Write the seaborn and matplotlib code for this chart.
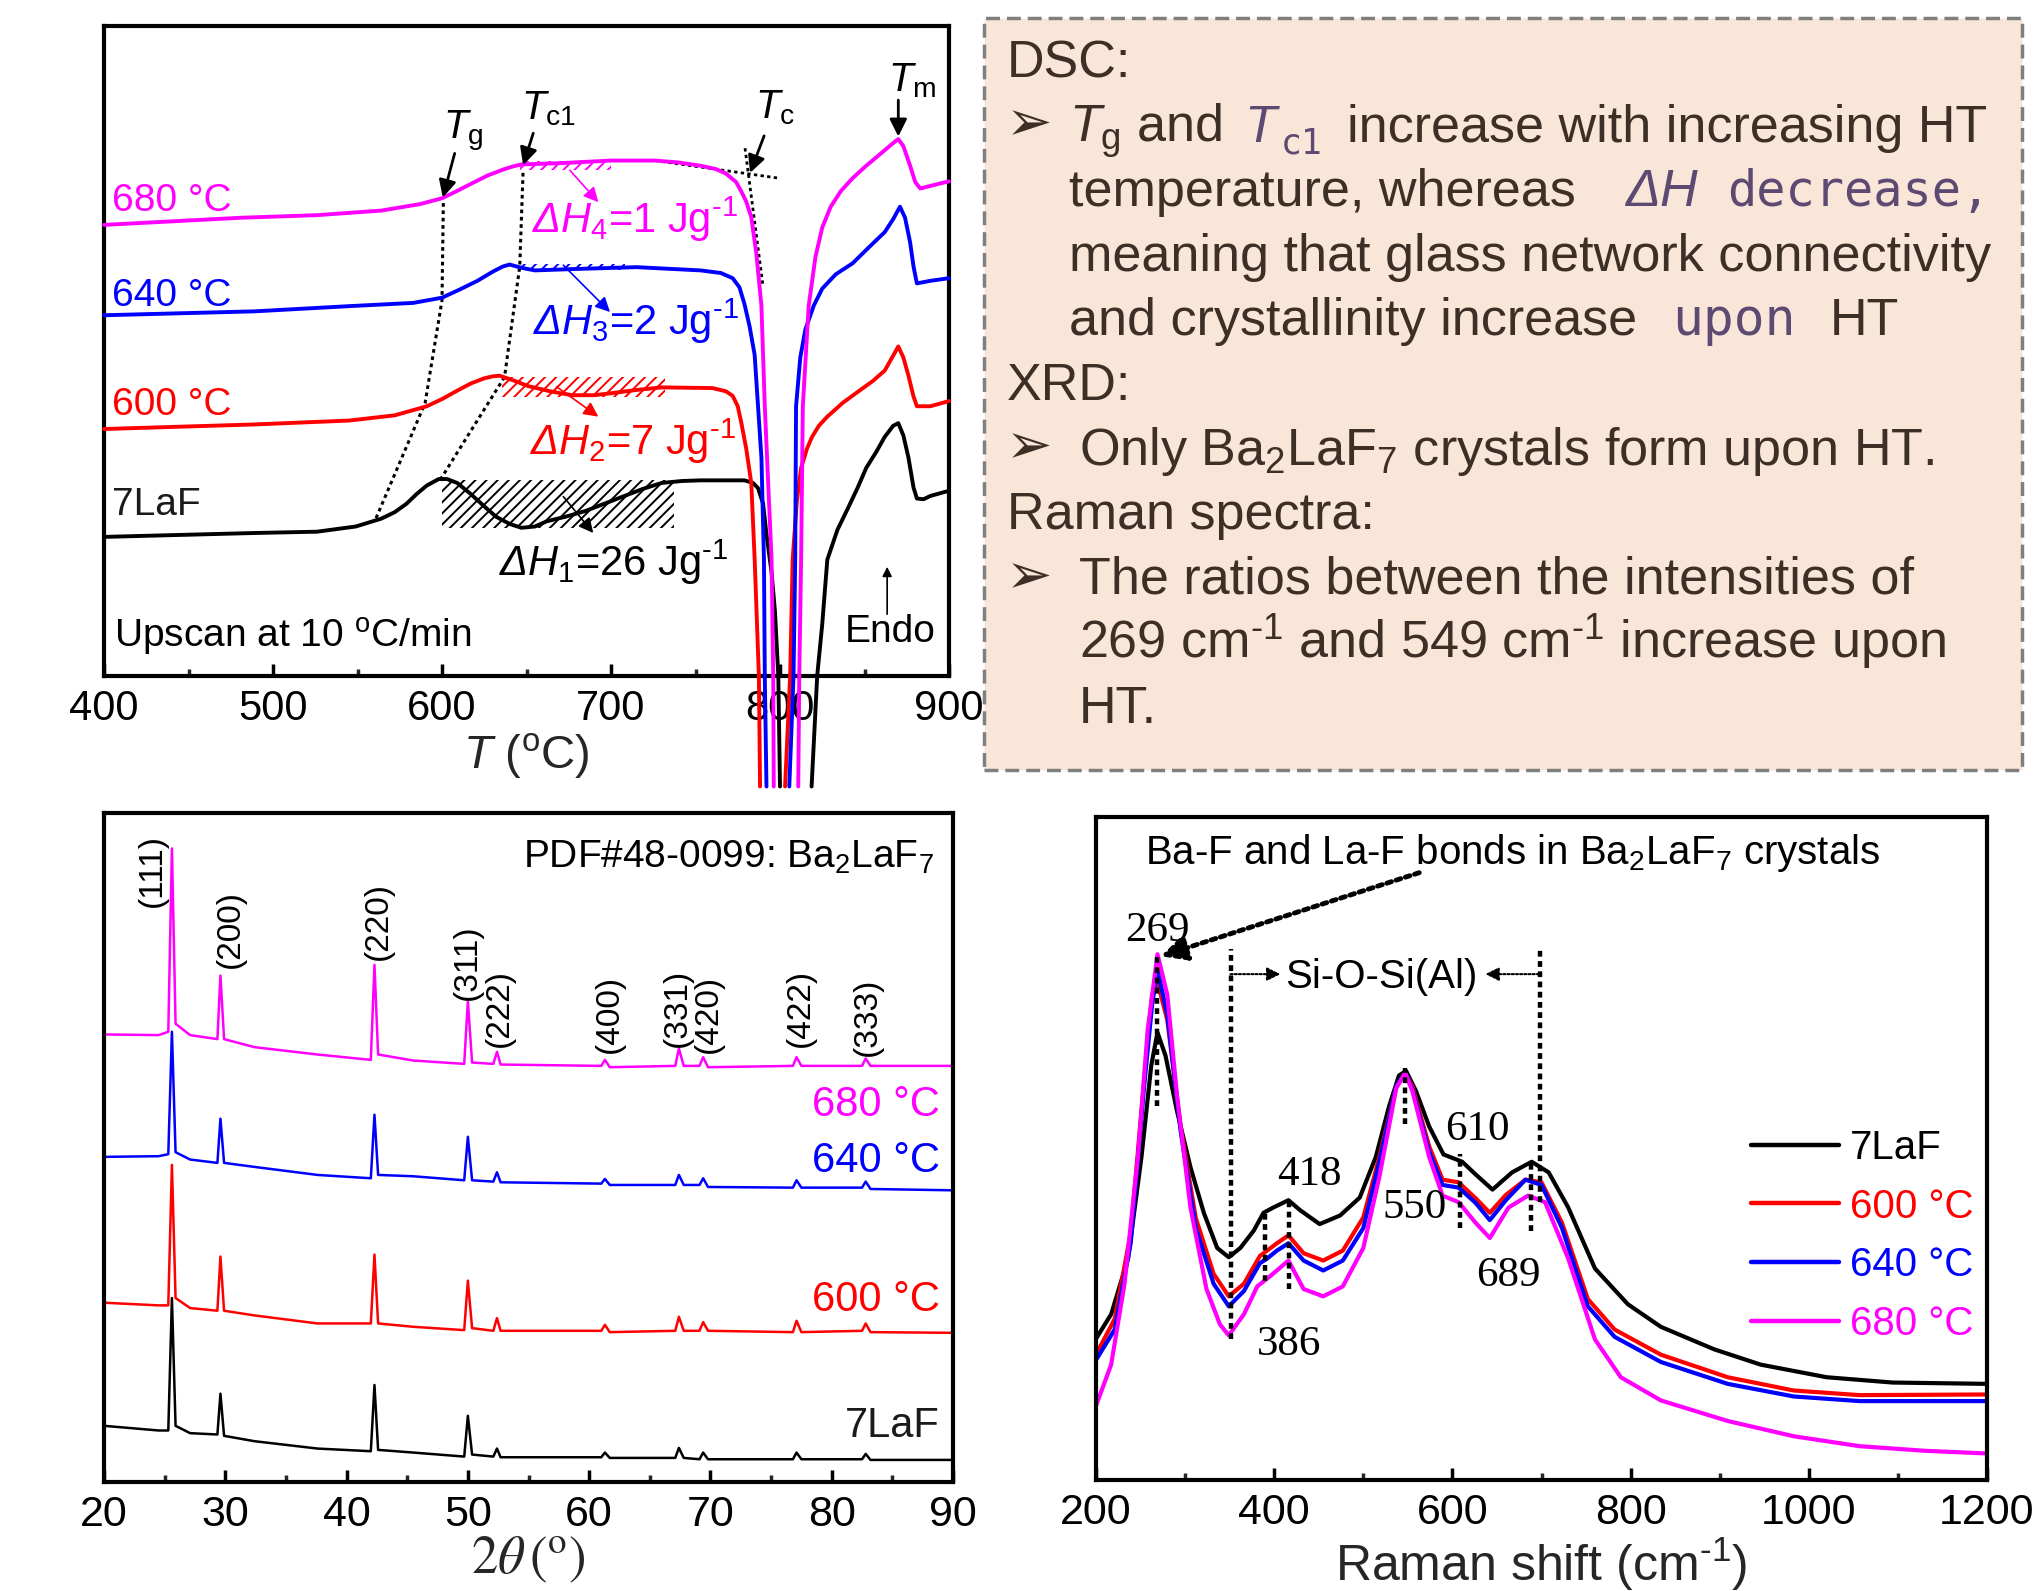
import matplotlib
matplotlib.use("Agg")
import matplotlib.pyplot as plt
from matplotlib.patches import Rectangle
from matplotlib.ticker import MultipleLocator
import seaborn as sns

# ---------------- DSC (T in degC, signal in arbitrary offset units) ----------------
# each trace is split where the crystallisation dip runs off the bottom of the panel
dsc_7laf_T1 = [400, 489, 526, 549, 564, 572, 579, 585, 591, 598, 603, 609, 617, 625, 632, 640, 647, 655, 662, 673,
               685, 697, 708, 719, 730, 742, 753, 779, 784, 787, 790, 792, 795, 797, 799, 800]
dsc_7laf_y1 = [21.4, 22.0, 22.2, 23.0, 24.2, 25.2, 26.5, 28.0, 29.3, 30.3, 30.3, 29.7, 28.0, 26.1, 24.5, 23.4, 22.8,
               23.0, 23.8, 24.5, 25.4, 26.6, 27.7, 28.8, 29.7, 30.0, 30.1, 30.1, 29.7, 28.9, 26.5, 21.8, 16.0, 10.0, 0.0, -17.0]
dsc_7laf_T2 = [818.7, 822, 825, 828, 834, 840, 846, 851, 857, 862, 867, 870, 873, 876, 879, 881, 885, 889, 900]
dsc_7laf_y2 = [-17.0, 0.0, 8.0, 17.9, 22.5, 25.7, 29.0, 32.0, 34.5, 36.8, 38.5, 38.9, 37.0, 33.6, 29.0, 27.3, 27.2, 27.7, 28.5]

dsc_600_T1 = [400, 489, 545, 572, 591, 600, 609, 617, 625, 630, 634, 642, 651, 664, 677, 690, 700, 715, 730, 760, 768, 772,
              775, 777, 780, 783, 785, 787.5, 788.2]
dsc_600_y1 = [38.0, 38.7, 39.3, 40.1, 41.5, 42.6, 43.9, 45.0, 45.8, 46.1, 46.2, 45.5, 44.6, 43.8, 43.2, 43.2, 43.5, 44.0,
              44.4, 44.3, 43.8, 43.1, 41.5, 39.1, 35.0, 29.7, 18.0, 0.0, -17.0]
dsc_600_T2 = [803, 806, 807.5, 810, 812.5, 816, 819, 823, 828, 837, 847, 855, 862, 867, 870, 873, 876, 879, 881, 889, 900]
dsc_600_y2 = [-17.0, 0.0, 18.0, 27.0, 32.0, 35.0, 36.8, 38.5, 39.9, 42.0, 43.9, 45.4, 47.0, 49.3, 50.7, 49.0, 46.2, 43.0,
              41.5, 41.5, 42.3]

dsc_640_T1 = [400, 489, 545, 583, 600, 610, 621, 630, 636, 640, 647, 655, 677, 715, 753, 765, 772, 776, 779, 782, 785, 789,
              790.5, 791, 792]
dsc_640_y1 = [55.5, 56.1, 56.9, 57.4, 58.2, 59.4, 60.8, 62.2, 63.0, 63.3, 62.8, 62.4, 62.6, 62.9, 62.4, 62.0, 61.2, 59.8,
              57.2, 53.8, 49.4, 33.6, 18.0, 0.0, -17.0]
dsc_640_T2 = [805.5, 808, 809, 809.5, 812, 815, 820, 825, 833, 843, 852, 862, 867, 871, 874, 877, 879, 881, 889, 900]
dsc_640_y2 = [-17.0, 0.0, 18.0, 41.5, 49.0, 53.3, 57.0, 59.6, 61.8, 63.5, 65.8, 68.3, 70.3, 72.2, 70.5, 66.7, 63.0, 60.4,
              60.8, 61.2]

dsc_680_T1 = [400, 481, 526, 564, 587, 600, 608, 617, 627, 636, 642, 647, 670, 700, 726, 740, 753, 762, 768, 774, 777, 780,
              783, 786, 789, 791, 795, 796, 796.3]
dsc_680_y1 = [69.4, 70.5, 70.9, 71.6, 72.6, 73.5, 74.5, 75.7, 77.0, 77.9, 78.4, 78.7, 78.9, 79.3, 79.3, 79.0, 78.5, 78.0,
              77.3, 76.0, 74.6, 73.0, 70.6, 65.0, 57.0, 41.5, 18.0, 0.0, -17.0]
dsc_680_T2 = [810.8, 811.4, 812.5, 813.5, 817, 821, 825, 830, 836, 843, 851, 857, 862, 867, 870, 873, 877, 880, 883, 892, 900]
dsc_680_y2 = [-17.0, 0.0, 18.0, 41.5, 57.0, 64.5, 69.0, 72.2, 74.6, 76.6, 78.5, 79.8, 80.9, 82.0, 82.6, 81.5, 78.5, 76.0,
              75.0, 75.6, 76.1]

dsc_labels = ["7LaF", "600 \u00b0C", "640 \u00b0C", "680 \u00b0C"]
dsc_label_y = [24.8, 40.1, 56.9, 71.6]
dh_texts = ["1", "2", "3", "4"]
dh_values = ["26", "7", "2", "1"]

# guide lines through Tg and Tc1 of each trace, and the Tc tangent construction
tg_T = [561, 590, 600, 600.8]
tg_y = [24.3, 42.0, 57.8, 73.0]
tc1_T = [599, 637, 646, 648]
tc1_y = [30.2, 46.0, 63.0, 77.8]
tc_tan1_T = [726, 799]
tc_tan1_y = [79.3, 76.6]
tc_tan2_T = [779.3, 790]
tc_tan2_y = [81.2, 59.9]

# hatched enthalpy areas: T start, T end, y bottom, y top
dh_T0 = [599.8, 635.3, 644, 646]
dh_T1 = [737, 732, 708, 700]
dh_y0 = [22.8, 43.0, 62.5, 77.8]
dh_y1 = [30.2, 46.0, 63.4, 79.3]

# ---------------- XRD ----------------
xrd_2theta = [20, 24.5, 25.3, 25.6, 25.9, 27.1, 29.35, 29.6, 29.9, 32.4, 37.6, 42.0, 42.3, 42.6, 45.5,
              49.7, 50.0, 50.35, 52.1, 52.4, 52.7, 61.0, 61.3, 61.7, 67.1, 67.4, 67.8, 69.1, 69.4, 69.8,
              76.8, 77.1, 77.5, 82.5, 82.8, 83.2, 90]
xrd_680 = [66.9, 66.8, 67.3, 94.7, 68.5, 66.8, 66.2, 75.7, 66.2, 65.0, 63.9, 63.1, 77.3, 63.9, 63.0,
           62.5, 71.9, 62.7, 62.5, 64.3, 62.4, 62.2, 63.1, 62.0, 62.2, 64.8, 62.2, 62.2, 63.5, 62.0,
           62.2, 63.5, 62.2, 62.2, 63.3, 62.2, 62.2]
xrd_640 = [48.6, 48.7, 49.0, 67.3, 49.3, 48.2, 47.7, 54.3, 47.7, 47.1, 45.9, 45.4, 54.9, 45.9, 45.7,
           45.1, 51.6, 45.1, 44.9, 46.3, 44.8, 44.6, 45.3, 44.4, 44.4, 45.9, 44.4, 44.4, 45.4, 44.1,
           44.0, 45.1, 44.0, 44.0, 44.9, 43.8, 43.6]
xrd_600 = [26.8, 26.4, 26.4, 47.4, 27.5, 26.0, 25.6, 33.7, 25.6, 24.9, 23.7, 23.7, 34.0, 23.7, 23.2,
           22.7, 30.1, 23.0, 22.6, 24.5, 22.6, 22.6, 23.5, 22.4, 22.6, 24.7, 22.6, 22.6, 23.9, 22.6,
           22.4, 24.1, 22.4, 22.6, 23.7, 22.4, 22.3]
xrd_7laf = [8.4, 7.7, 7.7, 27.5, 8.4, 7.3, 7.1, 13.2, 6.9, 6.1, 5.0, 4.6, 14.5, 4.8, 4.4,
            3.8, 9.9, 4.1, 3.8, 5.0, 3.7, 3.7, 4.4, 3.6, 3.6, 5.1, 3.6, 3.4, 4.4, 3.4,
            3.4, 4.4, 3.4, 3.4, 4.2, 3.3, 3.3]
hkl_labels = ["(111)", "(200)", "(220)", "(311)", "(222)", "(400)", "(331)", "(420)", "(422)", "(333)"]
hkl_x = [23.95, 30.4, 42.6, 50.0, 52.6, 61.7, 67.3, 69.8, 77.4, 82.9]
hkl_y = [91.4, 82.6, 83.8, 77.7, 70.8, 70.0, 70.8, 70.0, 70.8, 69.6]
xrd_label_y = [8.4, 27.2, 48.0, 56.4]

# ---------------- Raman ----------------
raman_7laf_x = [200, 217, 236, 251, 262, 269, 278, 291, 306, 321, 336, 349, 362, 377, 388, 399, 416, 429,
                451, 474, 496, 514, 529, 540, 548, 559, 574, 590, 611, 626, 645, 667, 689, 708, 730, 760,
                797, 834, 894, 946, 1020, 1094, 1200]
raman_7laf_y = [21.3, 25.0, 33.4, 48.7, 62.5, 67.5, 64.0, 55.6, 47.2, 40.3, 35.0, 33.6, 35.0, 37.6, 40.3,
                41.1, 42.2, 40.7, 38.6, 39.9, 42.6, 48.7, 56.4, 61.0, 61.7, 58.7, 53.3, 49.1, 48.0, 46.1,
                43.8, 46.4, 48.0, 46.4, 41.1, 31.9, 26.5, 23.1, 19.7, 17.4, 15.5, 14.7, 14.5]
raman_x = [200, 221, 239, 254, 263, 269, 280, 295, 312, 332, 349, 366, 384, 392, 403, 416, 433, 455, 477,
           500, 518, 537, 547, 555, 574, 589, 607, 626, 642, 660, 682, 700, 723, 752, 782, 834, 909, 983,
           1057, 1200]
raman_600_y = [18.9, 24.3, 37.3, 60.2, 73.2, 75.1, 69.4, 53.3, 39.5, 31.1, 27.7, 29.6, 33.8, 34.6, 35.7,
               36.9, 34.2, 33.1, 34.6, 39.6, 48.7, 59.4, 61.3, 59.4, 50.3, 45.3, 44.9, 42.5, 40.3, 43.0,
               45.3, 44.9, 38.8, 27.3, 22.7, 18.9, 15.5, 13.5, 12.8, 12.9]
raman_640_y = [18.1, 22.7, 35.8, 59.4, 71.7, 77.0, 70.2, 52.6, 38.0, 29.6, 26.2, 28.5, 32.7, 33.4, 34.6,
               35.7, 33.1, 31.6, 33.1, 38.0, 48.0, 59.4, 61.4, 59.0, 49.5, 44.5, 44.1, 41.8, 39.2, 42.2,
               45.3, 44.5, 38.0, 26.2, 21.6, 17.8, 14.5, 12.6, 11.9, 11.9]
raman_680_x = [200, 217, 232, 247, 258, 269, 280, 291, 306, 324, 339, 349, 366, 381, 396, 416, 433, 455,
               477, 500, 518, 537, 547, 555, 574, 589, 607, 626, 642, 663, 685, 704, 730, 760, 789, 834,
               909, 983, 1057, 1131, 1200]
raman_680_y = [11.2, 17.4, 29.6, 48.7, 67.9, 79.3, 73.2, 57.9, 41.1, 28.8, 23.5, 21.8, 25.0, 29.2, 30.8,
               33.1, 28.8, 27.7, 29.2, 35.0, 45.7, 59.1, 61.4, 58.7, 48.7, 42.9, 41.9, 38.8, 36.5, 41.1,
               42.9, 41.9, 33.4, 21.2, 15.5, 12.0, 8.9, 6.6, 5.1, 4.4, 4.0]
raman_peak_labels = ["269", "418", "550", "610", "386", "689"]
raman_peak_x = [269, 440, 557.6, 627.5, 416.4, 663.2]
raman_peak_y = [82.8, 46.1, 41.1, 52.9, 20.4, 30.8]
raman_guide_x = [269, 351, 389.6, 416.4, 547.2, 609, 687.7, 698.1]
raman_guide_y0 = [56.4, 21.2, 30.0, 28.8, 53.7, 38.0, 37.6, 41.9]
raman_guide_y1 = [79.3, 80.1, 40.3, 42.2, 62.1, 49.1, 48.0, 80.1]

colors = ["black", "#ff0000", "#0000ff", "#ff00ff"]
series_names = ["7LaF", "600 \u00b0C", "640 \u00b0C", "680 \u00b0C"]

# ---------------- style ----------------
sns.set_theme(style="ticks")
plt.rcParams["font.family"] = ["Liberation Sans", "DejaVu Sans"]
plt.rcParams["mathtext.fontset"] = "custom"
plt.rcParams["mathtext.rm"] = "Liberation Sans"
plt.rcParams["mathtext.it"] = "Liberation Sans:italic"
plt.rcParams["mathtext.cal"] = "Liberation Sans:italic"
plt.rcParams["mathtext.bf"] = "Liberation Sans:bold"
plt.rcParams["hatch.linewidth"] = 1.4
plt.rcParams["text.color"] = "black"

W, H = 2039, 1591
fig = plt.figure(figsize=(W / 100, H / 100), dpi=100)
INV = r"$^{\text{-1}}$"


def box(x0, y0, x1, y1):
    # pixel box (top-left origin) -> figure fraction rect
    return [x0 / W, 1 - y1 / H, (x1 - x0) / W, (y1 - y0) / H]


def style_axes(ax, major, minor, labelsize=30):
    for s in ax.spines.values():
        s.set_linewidth(3)
        s.set_color("black")
    ax.xaxis.set_major_locator(MultipleLocator(major))
    ax.xaxis.set_minor_locator(MultipleLocator(minor))
    ax.tick_params(axis="x", which="major", direction="in", length=9, width=2.5,
                   labelsize=labelsize, pad=9, colors="black")
    ax.tick_params(axis="x", which="minor", direction="in", length=5, width=2.5)
    ax.set_yticks([])
    ax.set_ylim(0, 100)


def arrow(ax, x0, y0, x1, y1, color="black", lw=2.0, ms=26, ls="-"):
    ax.annotate("", xy=(x1, y1), xytext=(x0, y0),
                arrowprops=dict(arrowstyle="-|>", color=color, lw=lw, mutation_scale=ms,
                                shrinkA=0, shrinkB=0, linestyle=ls), annotation_clip=False)


# ================= DSC panel =================
ax1 = fig.add_axes(box(104, 26, 949, 676))
style_axes(ax1, 100, 50)
ax1.set_xlim(400, 900)

dsc_segments = [
    (dsc_7laf_T1, dsc_7laf_y1, dsc_7laf_T2, dsc_7laf_y2),
    (dsc_600_T1, dsc_600_y1, dsc_600_T2, dsc_600_y2),
    (dsc_640_T1, dsc_640_y1, dsc_640_T2, dsc_640_y2),
    (dsc_680_T1, dsc_680_y1, dsc_680_T2, dsc_680_y2),
]
for i, (t1, y1, t2, y2) in enumerate(dsc_segments):
    # hatched enthalpy area behind the trace
    ax1.add_patch(Rectangle((dh_T0[i], dh_y0[i]), dh_T1[i] - dh_T0[i], dh_y1[i] - dh_y0[i],
                            fill=False, hatch="///", edgecolor=colors[i], lw=0, zorder=1))
    for tt, yy in ((t1, y1), (t2, y2)):
        sns.lineplot(x=tt, y=yy, ax=ax1, color=colors[i], lw=2.8, sort=False,
                     clip_on=False, zorder=3, legend=False)
    ax1.text(405, dsc_label_y[i], dsc_labels[i], fontsize=28,
             color=colors[i] if i else "#1a1a1a", va="baseline", ha="left")

ax1.plot(tg_T, tg_y, color="black", ls=(0, (1.2, 1.2)), lw=2.2, zorder=2)
ax1.plot(tc1_T, tc1_y, color="black", ls=(0, (1.2, 1.2)), lw=2.2, zorder=2)
ax1.plot(tc_tan1_T, tc_tan1_y, color="black", ls=(0, (1.2, 1.2)), lw=2.0, zorder=2)
ax1.plot(tc_tan2_T, tc_tan2_y, color="black", ls=(0, (1.2, 1.2)), lw=2.0, zorder=2)

# characteristic temperatures
ax1.text(600.8, 82.7, r"$T_{\mathrm{g}}$", fontsize=29, va="baseline")
arrow(ax1, 607.5, 80.4, 600.5, 73.6)
ax1.text(647, 85.7, r"$T_{\mathrm{c1}}$", fontsize=29, va="baseline")
arrow(ax1, 654, 83.5, 648, 78.6)
ax1.text(785, 85.8, r"$T_{\mathrm{c}}$", fontsize=29, va="baseline")
arrow(ax1, 790.6, 83.1, 782.3, 77.4)
ax1.text(864, 89.9, r"$T_{\mathrm{m}}$", fontsize=29, va="baseline")
arrow(ax1, 870, 88.6, 870, 83.0)

# enthalpy labels
dh_pos = [(634, 15.4), (652, 34.0), (653.8, 52.5), (653, 68.1)]
dh_arrows = [(671.8, 27.6, 689.5, 22.0), (667.8, 44.5, 692.5, 39.9),
             (671.8, 63.2, 699.4, 56.0), (675.7, 77.8, 692.5, 72.9)]
for i in range(4):
    x, y = dh_pos[i]
    ax1.text(x, y, r"$\mathcal{\Delta}H_{%s}$=%s Jg" % (dh_texts[i], dh_values[i]) + INV,
             fontsize=30, color=colors[i], va="baseline", ha="left")
    a = dh_arrows[i]
    arrow(ax1, a[0], a[1], a[2], a[3], color=colors[i], lw=1.2, ms=22)

ax1.text(406, 4.4, r"Upscan at 10 $^{\mathrm{o}}$C/min", fontsize=28, va="baseline")
ax1.text(865, 5.2, "Endo", fontsize=28, va="baseline", ha="center")
arrow(ax1, 863.4, 9.5, 863.4, 16.8, lw=1.2, ms=14)
ax1.set_ylabel("DSC Output (a.u.)", fontsize=32, labelpad=10)
ax1.set_xlabel(r"$T$ ($^{\mathrm{o}}$C)", fontsize=34, labelpad=2)

# ================= summary box =================
fig.add_artist(Rectangle((984 / W, 1 - 770 / H), (2022 - 984) / W, (770 - 18) / H,
                         transform=fig.transFigure, facecolor="#fae5d9", edgecolor="#7f7f7f",
                         lw=2.5, ls=(0, (4, 2)), zorder=0))
brown = "#3d2f26"
purple = "#5c4a72"
fs = 37.5
base = [77 + 64.6 * k for k in range(11)]


def ftext(x, y, s, color=brown, size=fs, **kw):
    fig.text(x / W, 1 - y / H, s, color=color, fontsize=size, va="baseline", ha="left", **kw)


bullet = dict(family=["DejaVu Sans"], size=40)
ftext(1007, base[0], "DSC:")
ftext(1006, base[1] - 1, "\u27a2", **bullet)
ftext(1069, base[1], r"$T_{\mathrm{g}}$ and")
ftext(1244, base[1], r"$T$", color=purple)
ftext(1281, base[1] + 12, "c1", color=purple, size=25, family=["DejaVu Sans Mono"])
ftext(1347, base[1], "increase with increasing HT")
ftext(1069, base[2], "temperature, whereas")
ftext(1624, base[2], r"$\mathcal{\Delta}H$", color=purple)
ftext(1727, base[2], "decrease,", color=purple, size=35, family=["DejaVu Sans Mono"])
ftext(1069, base[3], "meaning that glass network connectivity")
ftext(1069, base[4], "and crystallinity increase")
ftext(1672, base[4], "upon", color=purple, size=37, family=["DejaVu Sans Mono"])
ftext(1830, base[4], "HT")
ftext(1007, base[5], "XRD:")
ftext(1006, base[6] - 1, "\u27a2", **bullet)
ftext(1079, base[6], r"Only Ba$_{2}$LaF$_{7}$ crystals form upon HT.")
ftext(1007, base[7], "Raman spectra:")
ftext(1006, base[8] - 1, "\u27a2", **bullet)
ftext(1079, base[8], "The ratios between the intensities of")
ftext(1079, base[9], "269 cm" + INV + " and 549 cm" + INV + " increase upon")
ftext(1079, base[10], "HT.")

# ================= XRD panel =================
ax2 = fig.add_axes(box(104, 813, 953, 1482))
style_axes(ax2, 10, 5, labelsize=31)
ax2.set_xlim(20, 90)
xrd_series = [xrd_7laf, xrd_600, xrd_640, xrd_680]
for i, ys in enumerate(xrd_series):
    sns.lineplot(x=xrd_2theta, y=ys, ax=ax2, color=colors[i], lw=1.8, legend=False)
    ax2.text(88.9, xrd_label_y[i], series_names[i], fontsize=30,
             color=colors[i] if i else "#1a1a1a", ha="right", va="center")
for lab, x, y in zip(hkl_labels, hkl_x, hkl_y):
    ax2.text(x, y, lab, rotation=90, fontsize=24, ha="center", va="center")
ax2.text(88.4, 93.3, r"PDF#48-0099: Ba$_{2}$LaF$_{7}$", fontsize=28, ha="right", va="center")
ax2.set_ylabel("Intensity (a.u.)", fontsize=36, labelpad=12)
ax2.set_xlabel(r"$2\theta\,(^{\mathrm{o}})$", fontsize=38, labelpad=0, math_fontfamily="stix")

# ================= Raman panel =================
ax3 = fig.add_axes(box(1096, 817, 1987, 1480))
style_axes(ax3, 200, 100, labelsize=31)
ax3.set_xlim(200, 1200)
raman_series = [(raman_7laf_x, raman_7laf_y), (raman_x, raman_600_y),
                (raman_x, raman_640_y), (raman_680_x, raman_680_y)]
for i, (xs, ys) in enumerate(raman_series):
    sns.lineplot(x=xs, y=ys, ax=ax3, color=colors[i], lw=3.0, label=series_names[i])

ax3.vlines(raman_guide_x, raman_guide_y0, raman_guide_y1, colors="black",
           linestyles=[(0, (1.3, 1.0))], lw=3.2, zorder=4)
for lab, x, y in zip(raman_peak_labels, raman_peak_x, raman_peak_y):
    ax3.text(x, y, lab, fontsize=31, family=["Liberation Serif"], ha="center", va="center")
ax3.text(667, 94.6, r"Ba-F and La-F bonds in Ba$_{2}$LaF$_{7}$ crystals", fontsize=29,
         ha="center", va="center")
arrow(ax3, 562.8, 91.6, 272.9, 79.0, lw=3.5, ms=38, ls=(0, (1, 1)))
ax3.text(520.4, 75.9, "Si-O-Si(Al)", fontsize=29, ha="center", va="center")
arrow(ax3, 351, 76.3, 407, 76.3, lw=1.5, ms=20, ls=(0, (1, 1)))
arrow(ax3, 697, 76.3, 637, 76.3, lw=1.5, ms=20, ls=(0, (1, 1)))

leg = ax3.legend(loc="upper left", bbox_to_anchor=(0.735, 0.53), frameon=False,
                 fontsize=29, handlelength=2.2, handletextpad=0.25, labelspacing=0.52,
                 borderaxespad=0, borderpad=0, labelcolor="linecolor")
for line in leg.get_lines():
    line.set_linewidth(3.2)
ax3.set_ylabel("Intensity (a.u.)", fontsize=36, labelpad=12)
ax3.set_xlabel("Raman shift (cm" + INV + ")", fontsize=36, labelpad=2)

fig.savefig("out.png", dpi=100)
